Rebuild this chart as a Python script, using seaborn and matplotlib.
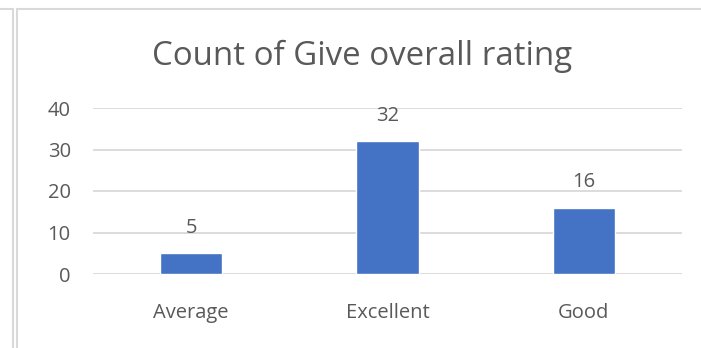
import matplotlib
matplotlib.use("Agg")
import matplotlib.pyplot as plt
import seaborn as sns
import pandas as pd
from matplotlib.lines import Line2D

categories = ["Average", "Excellent", "Good"]
counts = [5, 32, 16]
y_ticks = [0, 10, 20, 30, 40]
title = "Count of Give overall rating"

BAR = "#4472C4"
TEXT = "#595959"
GRID = "#D9D9D9"

sns.set_theme(style="white")
plt.rcParams["font.family"] = ["Open Sans", "DejaVu Sans"]

df = pd.DataFrame({"rating": categories, "count": counts})

fig = plt.figure(figsize=(7.01, 3.48), dpi=100)
ax = fig.add_axes([93 / 701, 74 / 348, 589 / 701, 166 / 348])

sns.barplot(data=df, x="rating", y="count", color=BAR, width=0.316,
            saturation=1, ax=ax, zorder=3)

ax.set_ylim(0, 40)
ax.set_xlim(-0.5, len(categories) - 0.5)
ax.set_yticks(y_ticks)
ax.set_yticklabels([str(t) for t in y_ticks])
ax.yaxis.grid(True, color=GRID, linewidth=1.3, zorder=0)
ax.set_axisbelow(True)
for s in ax.spines.values():
    s.set_visible(False)
ax.tick_params(axis="y", length=0, pad=16, labelsize=14.5, labelcolor=TEXT)
ax.tick_params(axis="x", length=0, pad=21, labelsize=14.5, labelcolor=TEXT)
ax.set_xlabel("")
ax.set_ylabel("")

for container in ax.containers:
    ax.bar_label(container, labels=[str(v) for v in counts], padding=11,
                 fontsize=14.5, color=TEXT)

fig.text(362 / 701, 1 - 56 / 348, title, ha="center", va="center",
         fontsize=23.8, color=TEXT)

# chart-area frame: top rule and doubled left edge
fig.add_artist(Line2D([0, 12.5 / 701], [1 - 9 / 348] * 2, color=GRID, lw=1.5,
                      transform=fig.transFigure))
fig.add_artist(Line2D([16.5 / 701, 1], [1 - 9 / 348] * 2, color=GRID, lw=1.5,
                      transform=fig.transFigure))
fig.add_artist(Line2D([13 / 701] * 2, [0, 1 - 9 / 348], color=GRID, lw=1.5,
                      transform=fig.transFigure))
fig.add_artist(Line2D([16.5 / 701] * 2, [0, 1 - 9 / 348], color=GRID, lw=1.5,
                      transform=fig.transFigure))

fig.savefig("out.png", dpi=100)
